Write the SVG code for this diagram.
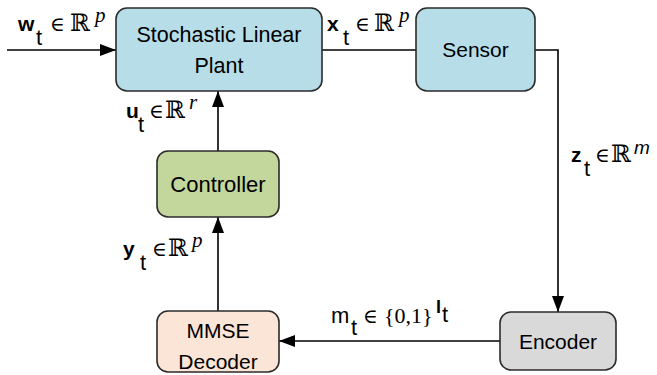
<svg xmlns="http://www.w3.org/2000/svg" width="657" height="375" viewBox="0 0 657 375">
<style>
.box{stroke:#2b2b2b;stroke-width:1.6}
.lbl{font-family:"Liberation Sans",Arial,sans-serif;font-size:21px;fill:#000}
.ln{fill:none;stroke:#000;stroke-width:1.6}
.b{font-family:"Liberation Sans",Arial,sans-serif;font-weight:bold;font-size:21px}
.s{font-family:"Liberation Sans",Arial,sans-serif;font-size:22px}
.e{font-family:"DejaVu Serif","Liberation Serif",serif;font-size:20px}
.r{font-family:"DejaVu Serif","DejaVu Sans",serif;font-size:24px}
.i{font-family:"Liberation Serif",serif;font-style:italic;font-size:21px}
.n{font-family:"Liberation Serif",serif;font-size:22px}
</style>
<defs>
<marker id="ah" markerWidth="16" markerHeight="12" refX="16" refY="6" orient="auto" markerUnits="userSpaceOnUse">
<path d="M0,0 L16,6 L0,12 Z" fill="#000"/>
</marker>
</defs>
<g id="connectors">
<line class="ln" x1="7" y1="50" x2="116" y2="50" marker-end="url(#ah)"/>
<line class="ln" x1="322" y1="50" x2="416" y2="50"/>
<polyline class="ln" points="535,50 558,50 558,312" marker-end="url(#ah)"/>
<line class="ln" x1="500" y1="341" x2="279" y2="341" marker-end="url(#ah)"/>
<line class="ln" x1="218" y1="311" x2="218" y2="217" marker-end="url(#ah)"/>
<line class="ln" x1="218" y1="151" x2="218" y2="91" marker-end="url(#ah)"/>
</g>
<g id="plant">
<rect class="box" x="116" y="8" width="206" height="83" rx="11" fill="#b7dde8"/>
<text class="lbl" x="219" y="42" text-anchor="middle" style="font-size:21.5px">Stochastic Linear</text>
<text class="lbl" x="219" y="73" text-anchor="middle" style="font-size:21.5px">Plant</text>
</g>
<g id="sensor">
<rect class="box" x="416" y="8" width="119" height="83" rx="11" fill="#b7dde8"/>
<text class="lbl" x="475.5" y="57" text-anchor="middle">Sensor</text>
</g>
<g id="controller">
<rect class="box" x="157" y="151" width="122" height="66" rx="11" fill="#c3d69b"/>
<text class="lbl" x="218" y="192" text-anchor="middle" style="font-size:22px">Controller</text>
</g>
<g id="decoder">
<rect class="box" x="157" y="311" width="122" height="61" rx="11" fill="#fbe5d6"/>
<text class="lbl" x="218" y="338" text-anchor="middle">MMSE</text>
<text class="lbl" x="218" y="369" text-anchor="middle">Decoder</text>
</g>
<g id="encoder">
<rect class="box" x="500" y="312" width="116" height="58" rx="11" fill="#d9d9d9"/>
<text class="lbl" x="558" y="349" text-anchor="middle">Encoder</text>
</g>
<g id="labels">
<text><tspan class="b" x="18" y="31">w</tspan><tspan class="s" x="36" y="45">t</tspan><tspan class="e" x="50" y="31">∈</tspan><tspan class="r" x="70" y="31">ℝ</tspan><tspan class="i" x="95" y="22">p</tspan></text>
<text><tspan class="b" x="327" y="31">x</tspan><tspan class="s" x="343" y="45">t</tspan><tspan class="e" x="355" y="31">∈</tspan><tspan class="r" x="374" y="31">ℝ</tspan><tspan class="i" x="399" y="22">p</tspan></text>
<text><tspan class="b" x="126" y="118">u</tspan><tspan class="s" x="138" y="132">t</tspan><tspan class="e" x="149" y="118">∈</tspan><tspan class="r" x="165" y="118">ℝ</tspan><tspan class="i" x="189" y="109">r</tspan></text>
<text><tspan class="b" x="123" y="256">y</tspan><tspan class="s" x="140" y="270">t</tspan><tspan class="e" x="152" y="256">∈</tspan><tspan class="r" x="168" y="256">ℝ</tspan><tspan class="i" x="192" y="247">p</tspan></text>
<text><tspan class="b" x="571" y="162">z</tspan><tspan class="s" x="584" y="176">t</tspan><tspan class="e" x="595" y="162">∈</tspan><tspan class="r" x="611" y="162">ℝ</tspan><tspan class="s" x="634" y="154" style="font-size:19px;font-style:italic">m</tspan></text>
<text><tspan class="s" x="331" y="323">m</tspan><tspan class="s" x="351" y="335">t</tspan><tspan class="e" x="363" y="323">∈</tspan><tspan class="n" x="384" y="323">{0,1}</tspan><tspan class="b" x="436" y="313" style="font-size:18px">l</tspan><tspan class="s" x="442" y="322">t</tspan></text>
</g>
</svg>
